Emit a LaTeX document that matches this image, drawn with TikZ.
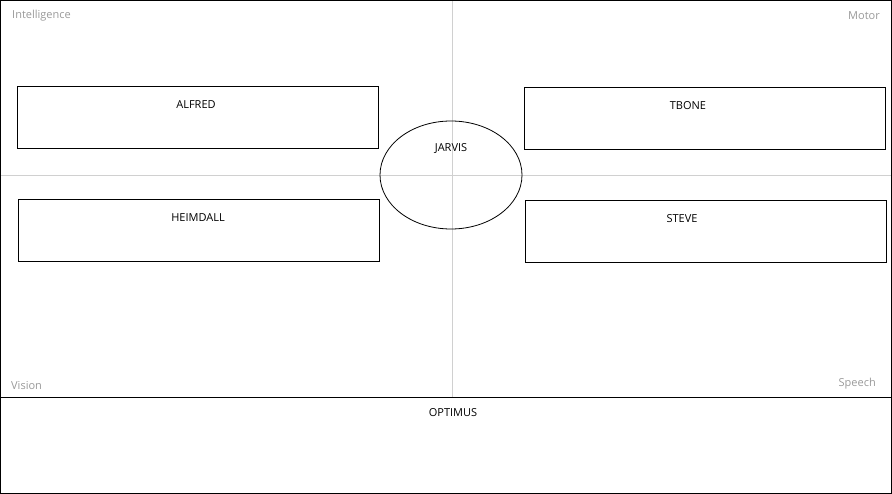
\documentclass[tikz,border=0pt]{standalone}
\usepackage{fontspec}
\setmainfont{Open Sans}
\usepackage{xcolor}
\usetikzlibrary{shapes.geometric,positioning}
\definecolor{QuadGrey}{HTML}{D0D0D0}
\definecolor{QuadText}{HTML}{999999}
\tikzset{
  unitbox/.style 2 args={
    draw=black,
    line width=0.8pt,
    minimum width=361pt,
    minimum height=62pt,
    inner sep=0pt,
    label={[anchor=north,yshift=-11pt,xshift=#2,font=\fontsize{11}{13}\selectfont]north:#1}
  },
  corelbl/.style={
    draw=black,
    line width=0.8pt,
    ellipse,
    minimum width=142pt,
    minimum height=108pt,
    inner sep=0pt,
    label={[anchor=north,yshift=-19pt,font=\fontsize{11}{13}\selectfont]north:#1}
  },
  quadlbl/.style={text=QuadText, font=\fontsize{11}{13}\selectfont, inner sep=0pt},
  divider/.style={draw=QuadGrey, line width=0.8pt}
}
\begin{document}
\begin{tikzpicture}[x=1pt,y=-1pt]
  \useasboundingbox (0,0) rectangle (892,494);
  % quadrant dividers
  \draw[divider] (452,0) -- (452,397);
  \draw[divider] (0,175) -- (892,175);
  % frame
  \draw[black, line width=0.8pt] (0.5,0.5) rectangle (891.5,493.5);
  \draw[black, line width=0.8pt] (0,397.5) -- (892,397.5);
  % quadrant names
  \node[quadlbl, anchor=west] (intel) at (12,15.5) {Intelligence};
  \node[quadlbl, anchor=east] (motor) at (880,15.5) {Motor};
  \node[quadlbl, anchor=west] (vision) at (11,386) {Vision};
  \node[quadlbl, anchor=east] (speech) at (876,383.5) {Speech};
  % units
  \node[unitbox={ALFRED}{-1.5pt}] (alfred) at (197.5,117) {};
  \node[unitbox={HEIMDALL}{-0.5pt}, below=51pt of alfred.south, anchor=north, xshift=1pt] (heimdall) {};
  \node[unitbox={TBONE}{-16.5pt}] (tbone) at (704.5,118) {};
  \node[unitbox={STEVE}{-23.5pt}, below=51pt of tbone.south, anchor=north, xshift=1pt] (steve) {};
  \node[corelbl=JARVIS] (jarvis) at (451,175) {};
  \node[font=\fontsize{11}{13}\selectfont] (optimus) at (453,413) {OPTIMUS};
\end{tikzpicture}
\end{document}
